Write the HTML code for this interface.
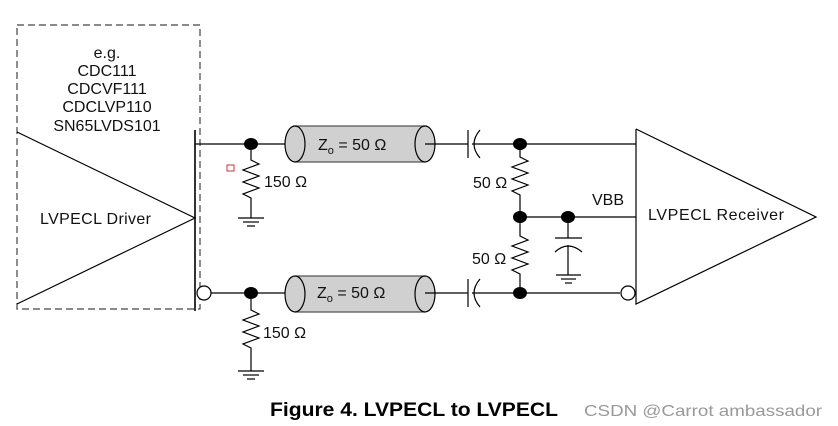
<!DOCTYPE html>
<html><head><meta charset="utf-8"><style>body{margin:0;background:#fff}svg{display:block}</style></head><body>
<svg width="838" height="426" viewBox="0 0 838 426" xmlns="http://www.w3.org/2000/svg" font-family="Liberation Sans, sans-serif">
<rect width="838" height="426" fill="#fff"/>
<rect x="17" y="25" width="183" height="284" fill="none" stroke="#444" stroke-width="1.2" stroke-dasharray="7,4"/>
<g font-size="16" fill="#111" text-anchor="middle">
<text x="107" y="58">e.g.</text><text x="107" y="76">CDC111</text><text x="107" y="94">CDCVF111</text><text x="107" y="112">CDCLVP110</text><text x="107" y="131">SN65LVDS101</text>
</g>
<g stroke="#000" stroke-width="1.2" fill="none">
<polyline points="17,132 195,218 17,304"/>
<line x1="195" y1="130" x2="195" y2="311" stroke-width="1.6"/>
<line x1="195" y1="144" x2="286" y2="144"/>
<line x1="211" y1="293" x2="286" y2="293"/>
<circle cx="204" cy="293" r="7" fill="#fff"/>
<polyline points="251,144 251,160 259,164 243,170 259,176 243,182 259,188 243,194 251,198 251,218"/>
<line x1="238" y1="218" x2="264" y2="218"/><line x1="243" y1="222" x2="259" y2="222"/><line x1="247" y1="226" x2="255" y2="226"/>
<polyline points="251,293 251,310 259,314 243,320 259,326 243,332 259,338 243,344 251,348 251,371"/>
<line x1="238" y1="371" x2="264" y2="371"/><line x1="243" y1="375" x2="259" y2="375"/><line x1="247" y1="379" x2="255" y2="379"/>
</g>
<rect x="227" y="165" width="7" height="6" fill="none" stroke="#c33" stroke-width="1"/>
<ellipse cx="251" cy="144" rx="7" ry="6"/><ellipse cx="251" cy="293" rx="7" ry="6"/>
<g font-size="16" fill="#111"><text x="264" y="187">150 Ω</text><text x="263" y="338">150 Ω</text></g>
<g stroke="#000" stroke-width="1.2">
<g>
<rect x="295" y="126" width="130" height="36" fill="#d0d0d0" stroke="none"/>
<line x1="295" y1="126" x2="425" y2="126" stroke="#555"/><line x1="295" y1="162" x2="425" y2="162" stroke="#555"/>
<ellipse cx="295" cy="144" rx="10" ry="18" fill="#d0d0d0"/>
<ellipse cx="425" cy="144" rx="10" ry="18" fill="#d0d0d0"/>
</g>
<g>
<rect x="295" y="276" width="130" height="36" fill="#d0d0d0" stroke="none"/>
<line x1="295" y1="276" x2="425" y2="276" stroke="#555"/><line x1="295" y1="312" x2="425" y2="312" stroke="#555"/>
<ellipse cx="295" cy="294" rx="10" ry="18" fill="#d0d0d0"/>
<ellipse cx="425" cy="294" rx="10" ry="18" fill="#d0d0d0"/>
</g>
</g>
<g font-size="16" fill="#111"><text x="318" y="150">Z<tspan font-size="11" dy="4">o</tspan><tspan dy="-4"> = 50 Ω</tspan></text>
<text x="317" y="298">Z<tspan font-size="11" dy="4">o</tspan><tspan dy="-4"> = 50 Ω</tspan></text></g>
<g stroke="#000" stroke-width="1.2" fill="none">
<line x1="425" y1="144" x2="468" y2="144"/><line x1="468" y1="130" x2="468" y2="158"/><path d="M480,130 Q468,144 480,158"/><line x1="472" y1="144" x2="636" y2="144"/>
<line x1="425" y1="293" x2="468" y2="293"/><line x1="468" y1="279" x2="468" y2="307"/><path d="M480,279 Q468,293 480,307"/><line x1="472" y1="293" x2="620" y2="293"/>
<polyline points="520,144 520,157 528,161 512,167 528,173 512,179 528,185 512,191 520,195 520,217"/>
<polyline points="520,217 520,236 528,240 512,246 528,252 512,258 528,264 512,270 520,274 520,293"/>
<line x1="520" y1="217" x2="636" y2="217"/>
<line x1="568" y1="217" x2="568" y2="238"/><line x1="555" y1="238" x2="582" y2="238"/><path d="M555,252 Q568,240 582,252"/><line x1="568" y1="245" x2="568" y2="275"/>
<line x1="556" y1="275" x2="581" y2="275"/><line x1="561" y1="279" x2="576" y2="279"/><line x1="565" y1="283" x2="572" y2="283"/>
<polyline points="636,129 816,217 636,304 636,129"/>
<circle cx="628" cy="293" r="7" fill="#fff"/>
</g>
<ellipse cx="520" cy="144" rx="7" ry="6"/><ellipse cx="520" cy="217" rx="7" ry="6"/><ellipse cx="568" cy="217" rx="7" ry="6"/><ellipse cx="520" cy="293" rx="7" ry="6"/>
<g font-size="16" fill="#111"><text x="473" y="188">50 Ω</text><text x="472" y="264">50 Ω</text><text x="592" y="205">VBB</text><text x="648" y="220" textLength="136">LVPECL  Receiver</text><text x="40" y="224" textLength="111">LVPECL Driver</text></g>
<text x="270" y="416" font-size="19" font-weight="bold" fill="#000" textLength="288" lengthAdjust="spacingAndGlyphs">Figure 4. LVPECL to LVPECL</text>
<text x="584" y="416" font-size="16" fill="#999" textLength="238" lengthAdjust="spacingAndGlyphs">CSDN @Carrot ambassador</text>
</svg>
</body></html>
